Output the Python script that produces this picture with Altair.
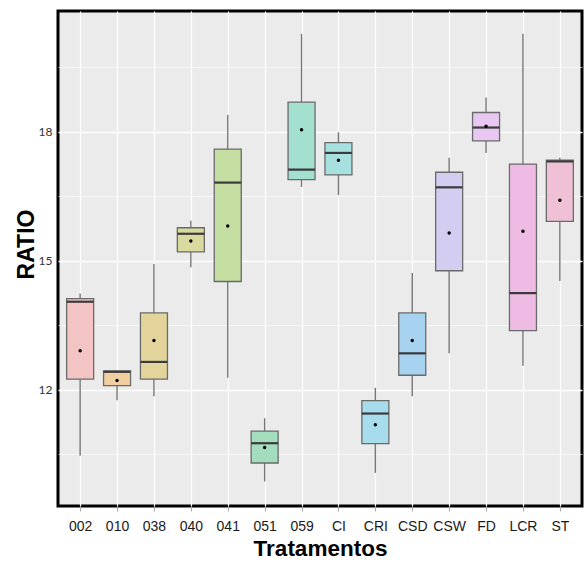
import altair as alt
import pandas as pd

categories = ["002", "010", "038", "040", "041", "051", "059", "CI", "CRI", "CSD", "CSW", "FD", "LCR", "ST"]
wmin = [10.47, 11.76, 11.85, 14.85, 12.28, 9.87, 16.72, 16.53, 10.07, 11.85, 12.85, 17.51, 12.56, 14.53]
q1 = [12.25, 12.10, 12.25, 15.21, 14.52, 10.30, 16.89, 17.00, 10.75, 12.34, 14.77, 17.79, 13.38, 15.92]
median = [14.05, 12.42, 12.65, 15.63, 16.82, 10.76, 17.12, 17.51, 11.45, 12.85, 16.71, 18.10, 14.25, 17.31]
q3 = [14.12, 12.44, 13.79, 15.77, 17.60, 11.04, 18.69, 17.75, 11.75, 13.79, 17.06, 18.45, 17.25, 17.34]
wmax = [14.24, 12.44, 14.93, 15.93, 18.39, 11.34, 20.28, 17.99, 12.05, 14.72, 17.40, 18.80, 20.28, 17.40]
means = [12.91, 12.22, 13.15, 15.46, 15.81, 10.66, 18.05, 17.34, 11.19, 13.15, 15.65, 18.13, 15.69, 16.41]
palette = ["#F2C4C4", "#EFCFA0", "#E2D49B", "#D9DA9F", "#C5DEA2", "#A3DDBE", "#A3E0CF",
           "#A6E1DF", "#A6DCEC", "#A7D3F0", "#D3CDF1", "#E8C7F2", "#EEBBE5", "#EFC0D6"]
y_ticks = [10.5, 12, 13.5, 15, 16.5, 18, 19.5]

df = pd.DataFrame({"cat": categories, "wmin": wmin, "q1": q1, "median": median,
                   "q3": q3, "wmax": wmax, "mean": means})

xenc = alt.X("cat:N", sort=categories,
             scale=alt.Scale(type="point", padding=0.6),
             axis=alt.Axis(title="Tratamentos", labelFont="Liberation Sans", labelFontSize=14,
                           labelColor="#1a1a1a", labelAngle=0, labelPadding=8,
                           tickColor="#aaaaaa", tickSize=5, domain=False,
                           grid=True, gridColor="white", gridWidth=1.2,
                           titleFont="Liberation Sans", titleFontSize=22.5, titleFontWeight="bold",
                           titleColor="black", titleBaseline="alphabetic", titleY=49))
yscale = alt.Scale(domain=[9.3, 20.81], nice=False, zero=False)
yaxis = alt.Axis(title="RATIO", values=y_ticks,
                 labelExpr="datum.value % 3 == 0 ? datum.label : ''",
                 labelFont="Lato", labelFontSize=12, labelColor="#333333", labelPadding=6,
                 ticks=False, domain=False, gridColor="white",
                 gridWidth={"condition": {"test": "datum.value % 3 == 0", "value": 1.3}, "value": 0.6},
                 titleFont="Liberation Sans", titleFontSize=23, titleFontWeight="bold",
                 titleColor="black", titleAngle=270, titleBaseline="alphabetic",
                 titleX=-25, titleY=233)

base = alt.Chart(df)
whisk_lo = base.mark_rule(color="#777777", strokeWidth=1.4).encode(
    x=xenc, y=alt.Y("wmin:Q", scale=yscale, axis=yaxis), y2="q1:Q")
whisk_hi = base.mark_rule(color="#777777", strokeWidth=1.4).encode(
    x=xenc, y=alt.Y("q3:Q", scale=yscale, axis=yaxis), y2="wmax:Q")
box = base.mark_bar(size=27, fillOpacity=1, stroke="#6a6a6a", strokeWidth=1.3).encode(
    x=xenc, y=alt.Y("q1:Q", scale=yscale, axis=yaxis), y2="q3:Q",
    fill=alt.Fill("cat:N", sort=categories,
                  scale=alt.Scale(domain=categories, range=palette), legend=None))
med = base.mark_tick(size=27, thickness=2.2, color="#3b3b3b", opacity=1).encode(
    x=xenc, y=alt.Y("median:Q", scale=yscale, axis=yaxis))
mean_pt = base.mark_point(filled=True, color="black", size=12, opacity=1).encode(
    x=xenc, y=alt.Y("mean:Q", scale=yscale, axis=yaxis))

chart = alt.layer(whisk_lo, whisk_hi, box, med, mean_pt).properties(
    width=524, height=495,
    padding={"left": 58, "top": 11, "right": 3, "bottom": 64},
    autosize=alt.AutoSizeParams(type="none"),
    background="white",
).configure_view(fill="#EBEBEB", stroke="black", strokeWidth=3)

chart.save("out.html", embed_options={"renderer": "svg", "actions": False})
